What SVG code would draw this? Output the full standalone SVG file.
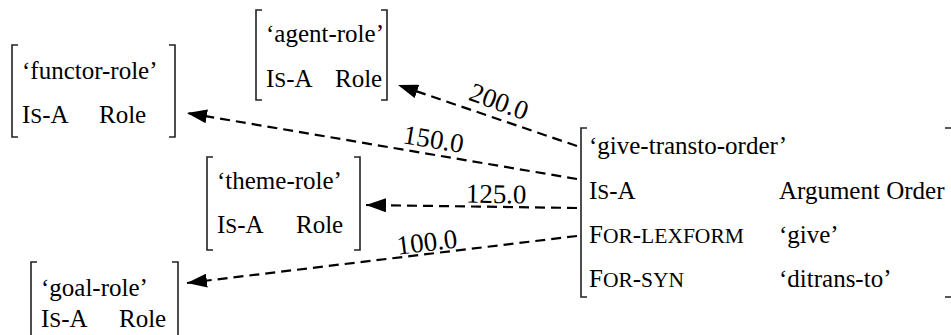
<svg xmlns="http://www.w3.org/2000/svg" width="951" height="335" viewBox="0 0 951 335">
<defs>
<style>
text{font-family:"Liberation Serif","DejaVu Serif",serif;font-size:25px;fill:#000}
.sc{font-size:21.5px}
.br{fill:none;stroke:#222;stroke-width:1.6}
.edge{fill:none;stroke:#000;stroke-width:2.2;stroke-dasharray:10 6}
.lbl{font-size:27px;text-anchor:middle}
</style>
<marker id="ah" markerUnits="userSpaceOnUse" markerWidth="22" markerHeight="14" refX="20" refY="7" orient="auto">
<path d="M0,0 L20,7 L0,14 z" fill="#000"/>
</marker>
</defs>
<rect width="951" height="335" fill="#fff"/>
<g id="connectors">
<line class="edge" x1="577" y1="146" x2="398" y2="85" marker-end="url(#ah)"/>
<line class="edge" x1="577" y1="179" x2="187" y2="113" marker-end="url(#ah)"/>
<line class="edge" x1="577" y1="208" x2="366" y2="205" marker-end="url(#ah)"/>
<line class="edge" x1="577" y1="236" x2="187" y2="283" marker-end="url(#ah)"/>
<text class="lbl" transform="translate(496,110) rotate(20)">200.0</text>
<text class="lbl" transform="translate(432,148) rotate(9.6)">150.0</text>
<text class="lbl" transform="translate(496,203) rotate(0.8)">125.0</text>
<text class="lbl" transform="translate(428,251) rotate(-6.9)">100.0</text>
</g>
<g id="agent-role">
<path class="br" d="M262,10 H256 V100 H262 M381,10 H387 V100 H381"/>
<text x="266" y="42">‘agent-role’</text>
<text x="266" y="87">I<tspan class="sc">S</tspan>-A</text>
<text x="335" y="87">Role</text>
</g>
<g id="functor-role">
<path class="br" d="M18,45 H12 V137 H18 M169,45 H175 V137 H169"/>
<text x="22" y="79">‘functor-role’</text>
<text x="22" y="123">I<tspan class="sc">S</tspan>-A</text>
<text x="99" y="123">Role</text>
</g>
<g id="theme-role">
<path class="br" d="M213,157 H207 V250 H213 M354,157 H360 V250 H354"/>
<text x="217" y="189">‘theme-role’</text>
<text x="217" y="233">I<tspan class="sc">S</tspan>-A</text>
<text x="296" y="233">Role</text>
</g>
<g id="goal-role">
<path class="br" d="M37,262 H31 V345 M172,262 H178 V345"/>
<text x="41" y="296">‘goal-role’</text>
<text x="41" y="327">I<tspan class="sc">S</tspan>-A</text>
<text x="119" y="327">Role</text>
</g>
<g id="give-transto-order">
<path class="br" d="M587,128 H581 V297 H587 M945,128 H952 V297 H945"/>
<text x="589" y="154">‘give-transto-order’</text>
<text x="589" y="199">I<tspan class="sc">S</tspan>-A</text>
<text x="779" y="199">Argument Order</text>
<text x="589" y="243">F<tspan class="sc">OR</tspan>-<tspan class="sc">LEXFORM</tspan></text>
<text x="779" y="243">‘give’</text>
<text x="589" y="287">F<tspan class="sc">OR</tspan>-<tspan class="sc">SYN</tspan></text>
<text x="779" y="287">‘ditrans-to’</text>
</g>
</svg>
